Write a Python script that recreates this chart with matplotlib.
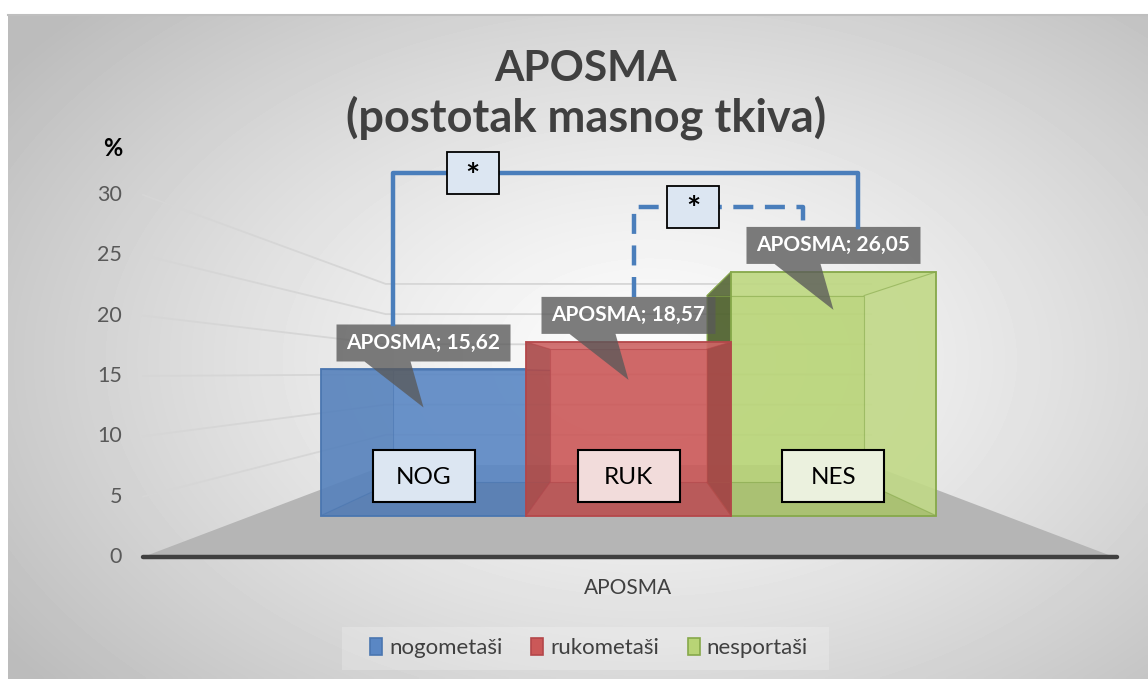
import numpy as np
import matplotlib.pyplot as plt
from matplotlib.patches import Polygon, Rectangle, Patch

plt.rcParams['font.family'] = ['Lato', 'DejaVu Sans']

# data
groups = ["nogometaši", "rukometaši", "nesportaši"]
short = ["NOG", "RUK", "NES"]
values = [15.62, 18.57, 26.05]
series_name = "APOSMA"
yticks = [0, 5, 10, 15, 20, 25, 30]
sig_pairs = [(0, 2), (1, 2)]  # group indices compared, both marked *

face_cols = ["#5A87C4", "#CB5858", "#B8D476"]
edge_cols = ["#4A76B0", "#B4474A", "#86A84A"]
box_cols = ["#DCE6F2", "#F2DCDB", "#EBF1DE"]

W, H = 1148, 679
fig = plt.figure(figsize=(W / 100, H / 100), dpi=100)
ax = fig.add_axes([0, 0, 1, 1])
ax.set_xlim(0, W)
ax.set_ylim(H, 0)
ax.axis("off")

# perspective: s = 1 at the front of the floor, 0.5 at the back wall
XC, YVP, Y0, K = 628.5, 373.0, 557.0, 12.07
X_LEFT, X_RIGHT = 143.0, 1114.0
BF, BB = 0.775, 0.594          # bar front / back depth
BAR_W = 264.5


def proj(X, s, v):
    return XC + (X - XC) * s, YVP + (Y0 - K * v - YVP) * s


# background gradient
xs = np.linspace(8, W, 300)
ys = np.linspace(14, H, 180)
gx, gy = np.meshgrid(xs, ys)
r = np.sqrt(((gx - 650) / 620) ** 2 + ((gy - 360) / 400) ** 2)
bg = np.clip(252 - 47 * r ** 1.3, 188, 255)
ax.imshow(bg, extent=[8, W, H, 14], cmap="gray", vmin=0, vmax=255,
          aspect="auto", zorder=0, interpolation="bilinear")
ax.plot([8, W], [14.5, 14.5], color="#BFBFBF", lw=1.5, zorder=1)

# floor
floor = [proj(X_LEFT, 1, 0), proj(X_RIGHT, 1, 0), proj(X_RIGHT, 0.5, 0), proj(X_LEFT, 0.5, 0)]
ax.add_patch(Polygon(floor, closed=True, fc="#B5B5B5", ec="none", zorder=2))

# gridlines on left wall + back wall
for v in yticks:
    if v > 0:
        pts = [proj(X_LEFT, 1, v), proj(X_LEFT, 0.5, v), proj(X_RIGHT, 0.5, v)]
        ax.plot(*zip(*pts), color="#D6D6D6", lw=1.3, zorder=1.5)
    tx, ty = proj(X_LEFT, 1, v)
    ax.text(122, ty, str(v), ha="right", va="center", fontsize=15.5, color="#595959")
ax.plot(*zip(proj(X_LEFT, 1, 0), proj(X_RIGHT + 3, 1, 0)), color="#404040",
        lw=3.2, solid_capstyle="round", zorder=3)
ax.text(122, 149, "%", ha="right", va="center", fontsize=17, fontweight="bold", color="black")

# bars
x_start = XC - 1.5 * BAR_W
side_shade = [(0.03, 0.12), (0.14, 0.14), (0.12, -0.12)]
draw_order = [2, 0, 1]
tops = {}
for zi, i in enumerate(draw_order):
    v = values[i]
    x0, x1 = x_start + i * BAR_W, x_start + (i + 1) * BAR_W
    z = 4 + zi
    fc, ec = face_cols[i], edge_cols[i]
    front = [proj(x0, BF, 0), proj(x1, BF, 0), proj(x1, BF, v), proj(x0, BF, v)]
    back = [proj(x0, BB, 0), proj(x1, BB, 0), proj(x1, BB, v), proj(x0, BB, v)]
    left = [front[0], back[0], back[3], front[3]]
    right = [front[1], back[1], back[2], front[2]]
    bottom = [front[0], front[1], back[1], back[0]]
    top = [front[3], front[2], back[2], back[3]]
    # outside face seen directly (left face of a bar right of centre)
    if x0 > XC:
        ax.add_patch(Polygon(left, closed=True, fc="#5C7135", ec=ec, lw=0.8, alpha=0.92, zorder=z))
    ax.add_patch(Polygon(front, closed=True, fc=fc, ec="none", alpha=0.9, zorder=z + 0.1))
    ax.add_patch(Polygon(bottom, closed=True, fc="black", ec="none", alpha=0.07, zorder=z + 0.2))
    ax.add_patch(Polygon(top, closed=True, fc="white", ec="none", alpha=0.08, zorder=z + 0.2))
    for face, a in zip([left, right], side_shade[i]):
        ax.add_patch(Polygon(face, closed=True, fc="black" if a > 0 else "white",
                             ec="none", alpha=abs(a), zorder=z + 0.2))
    for k in range(4):
        ax.plot(*zip(front[k], back[k]), color=ec, lw=0.8, alpha=0.6, zorder=z + 0.3)
    ax.add_patch(Polygon(back, closed=True, fc="none", ec=ec, lw=0.8, alpha=0.6, zorder=z + 0.3))
    ax.add_patch(Polygon(front, closed=True, fc="none", ec=ec, lw=1.3, zorder=z + 0.4))
    tops[i] = (proj((x0 + x1) / 2, BF, v))

    # category box inside the bar
    bx, by = proj((x0 + x1) / 2, BF, 4.2)
    bw, bh = 102, 52
    ax.add_patch(Rectangle((bx - bw / 2, by - bh / 2), bw, bh, fc=box_cols[i], ec="black",
                           lw=1.5, zorder=z + 0.5))
    ax.text(bx, by + 1, short[i], ha="center", va="center", fontsize=17.5, color="black", zorder=z + 0.6)

# data label callouts
label_top = {}
for i, v in enumerate(values):
    cx, ty = tops[i]
    bw, bh = 174, 37
    bot = ty - 8
    tip = ty + 38
    pts = [(cx - bw / 2, bot - bh), (cx + bw / 2, bot - bh), (cx + bw / 2, bot),
           (cx - 13, bot), (cx, tip), (cx - 59, bot), (cx - bw / 2, bot)]
    ax.add_patch(Polygon(pts, closed=True, fc="#595959", ec="none", alpha=0.78, zorder=10))
    ax.text(cx, bot - bh / 2, f"{series_name}; {v:.2f}".replace(".", ","), ha="center",
            va="center", fontsize=15, fontweight="bold", color="white", zorder=11)
    label_top[i] = bot - bh

# significance brackets
LINE = "#4A7EBB"
bracket_style = [
    dict(level=36.6, dl=-31, dr=25, ls="-", star=0.172),
    dict(level=33.0, dl=5, dr=-30, ls=(0, (4.5, 2.6)), star=0.35),
]
for (a, b), st in zip(sig_pairs, bracket_style):
    xa = tops[a][0] + st["dl"]
    xb = tops[b][0] + st["dr"]
    yl = proj(XC, BF, st["level"])[1]
    ax.plot([xa, xa, xb, xb], [label_top[a], yl, yl, label_top[b]], color=LINE, lw=3.2,
            linestyle=st["ls"], zorder=12)
    sx = xa + st["star"] * (xb - xa)
    ax.add_patch(Rectangle((sx - 26, yl - 21), 52, 42, fc="#DCE6F2", ec="black", lw=1.3, zorder=13))
    ax.text(sx, yl + 4, "*", ha="center", va="center", fontsize=24, fontweight="bold", zorder=14)

# titles
ax.text(585, 81, "APOSMA", ha="center", va="baseline", fontsize=30.5, fontweight="bold", color="#404040")
ax.text(586, 131, "(postotak masnog tkiva)", ha="center", va="baseline", fontsize=32.5,
        fontweight="bold", color="#404040")
ax.text(628, 588, series_name, ha="center", va="center", fontsize=15, color="#404040")

# legend
ax.add_patch(Rectangle((342, 627), 487, 43, fc="white", ec="none", alpha=0.22, zorder=1))
handles = [Patch(fc=face_cols[i], ec=edge_cols[i], lw=1.2) for i in range(3)]
ax.legend(handles, groups, loc="center", bbox_to_anchor=(589 / W, 1 - 648 / H), ncol=3,
          frameon=False, fontsize=16, handlelength=0.55, handleheight=0.8, handletextpad=0.3,
          columnspacing=1.3, labelcolor="#404040")

fig.savefig("out.png", dpi=100, facecolor="white")
